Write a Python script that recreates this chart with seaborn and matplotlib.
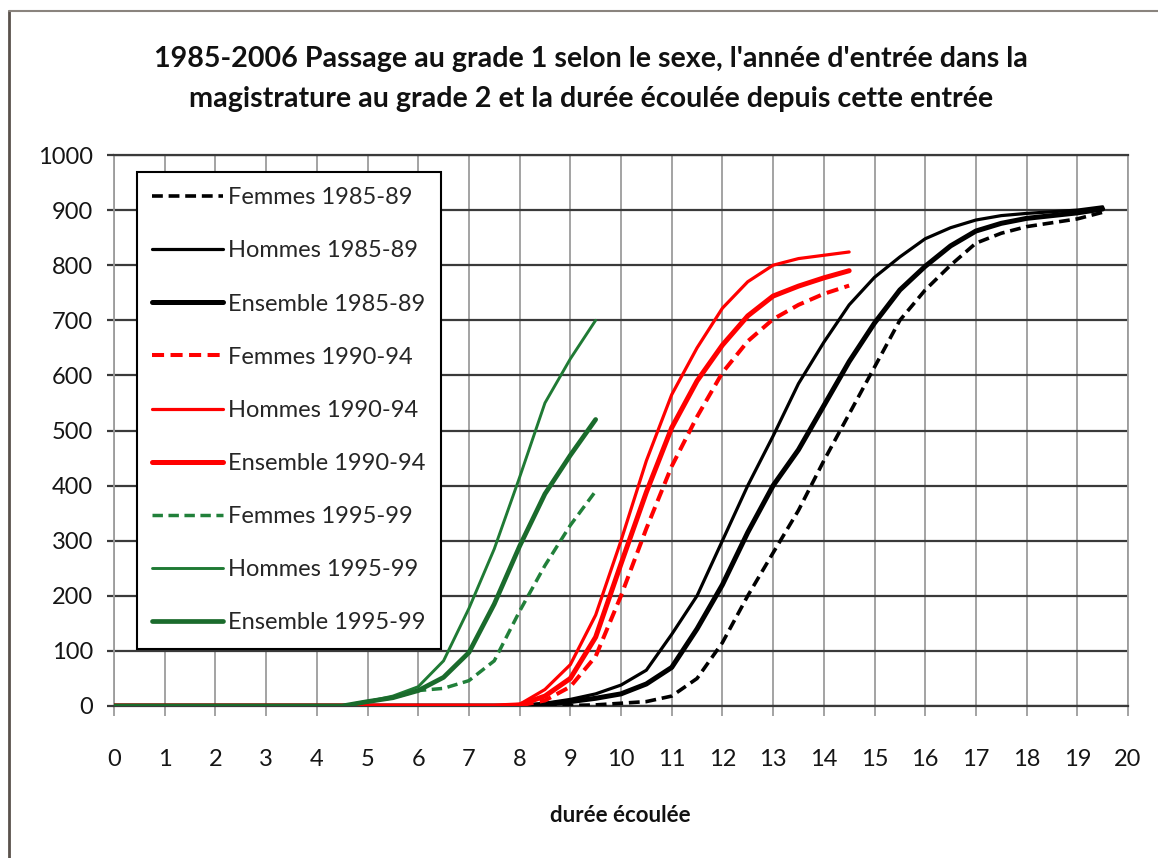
import matplotlib
matplotlib.use("Agg")
import matplotlib.pyplot as plt
import seaborn as sns
import pandas as pd
from matplotlib.lines import Line2D

sns.set_theme(style="white")
plt.rcParams['font.family'] = ['Lato', 'DejaVu Sans']

# ---- data ----
duree = [0, 0.5, 1, 1.5, 2, 2.5, 3, 3.5, 4, 4.5, 5, 5.5, 6, 6.5, 7, 7.5,
         8, 8.5, 9, 9.5, 10, 10.5, 11, 11.5, 12, 12.5, 13, 13.5, 14, 14.5,
         15, 15.5, 16, 16.5, 17, 17.5, 18, 18.5, 19, 19.5]

zeros16 = [0] * 16
femmes_85 = zeros16 + [0, 0, 1, 2, 5, 8, 18, 50, 115, 200, 278, 355, 445, 530,
                       615, 700, 755, 800, 840, 858, 870, 877, 884, 896]
hommes_85 = zeros16 + [0, 5, 12, 22, 38, 65, 130, 200, 300, 400, 490, 585, 660, 728,
                       778, 815, 848, 868, 882, 890, 894, 897, 900, 906]
ensemble_85 = zeros16 + [0, 3, 8, 14, 22, 40, 70, 140, 220, 315, 400, 465, 545, 625,
                         695, 755, 798, 835, 862, 876, 885, 890, 895, 902]

femmes_90 = zeros16 + [1, 10, 35, 90, 200, 322, 435, 525, 605, 662, 702, 728, 748, 763]
hommes_90 = zeros16 + [3, 30, 75, 165, 300, 445, 565, 650, 722, 770, 800, 812, 818, 824]
ensemble_90 = zeros16 + [2, 18, 50, 125, 258, 388, 505, 590, 655, 708, 744, 762, 777, 790]

zeros9 = [0] * 9
femmes_95 = zeros9 + [0, 8, 15, 28, 32, 46, 82, 172, 255, 328, 390]
hommes_95 = zeros9 + [0, 8, 18, 35, 82, 177, 285, 415, 550, 630, 700]
ensemble_95 = zeros9 + [0, 8, 15, 28, 52, 97, 185, 290, 385, 455, 520]

x_ticks = list(range(0, 21))
y_ticks = list(range(0, 1001, 100))

title1 = "1985-2006 Passage au grade 1 selon le sexe, l'année d'entrée dans la"
title2 = "magistrature au grade 2 et la durée écoulée depuis cette entrée"
xlabel = "durée écoulée"

series = [
    ("Femmes 1985-89", femmes_85, "#000000", 2.6, "dash"),
    ("Hommes 1985-89", hommes_85, "#000000", 2.3, "solid"),
    ("Ensemble 1985-89", ensemble_85, "#000000", 3.6, "solid"),
    ("Femmes 1990-94", femmes_90, "#ff0000", 2.9, "dash"),
    ("Hommes 1990-94", hommes_90, "#ff0000", 2.3, "solid"),
    ("Ensemble 1990-94", ensemble_90, "#ff0000", 3.6, "solid"),
    ("Femmes 1995-99", femmes_95, "#21803a", 2.5, "dash"),
    ("Hommes 1995-99", hommes_95, "#1f7a34", 2.1, "solid"),
    ("Ensemble 1995-99", ensemble_95, "#1a6b2c", 3.4, "solid"),
]

fig = plt.figure(figsize=(11.58, 8.58), dpi=100)
W, H = 1158, 858
ax = fig.add_axes([114 / W, 1 - 706 / H, (1128 - 114) / W, (706 - 155) / H])

for name, vals, col, lw, ls in series:
    df = pd.DataFrame({"duree": duree[:len(vals)], "val": vals})
    style = (0, (3, 1.6)) if ls == "dash" else "-"
    sns.lineplot(data=df, x="duree", y="val", ax=ax, color=col, lw=lw,
                 linestyle=style, errorbar=None, label=name,
                 solid_capstyle="round", solid_joinstyle="round",
                 dash_capstyle="butt", zorder=3)

ax.set_xlim(0, 20)
ax.set_ylim(0, 1000)
ax.set_xticks(x_ticks)
ax.set_yticks(y_ticks)
ax.set_xticklabels([str(t) for t in x_ticks])
ax.set_yticklabels([str(t) for t in y_ticks])
ax.set_xlabel("")
ax.set_ylabel("")

ax.grid(False)
for t in y_ticks:
    ax.axhline(t, color="#3a3a3a", lw=1.6, zorder=1)
for t in x_ticks:
    ax.axvline(t, color="#9c9c9c", lw=1.3, zorder=0.9)

for s in ["left", "right"]:
    ax.spines[s].set_color("#9c9c9c")
    ax.spines[s].set_linewidth(1.3)
for s in ["top", "bottom"]:
    ax.spines[s].set_color("#3a3a3a")
    ax.spines[s].set_linewidth(1.6)

ax.tick_params(axis="x", bottom=True, direction="out", length=7, width=1.3,
               color="#9c9c9c", pad=24, labelsize=17, labelcolor="#151515")
ax.tick_params(axis="y", left=True, direction="out", length=5, width=1.6,
               color="#3a3a3a", pad=10, labelsize=17, labelcolor="#151515")

handles, labels = ax.get_legend_handles_labels()
leg = ax.legend(handles, labels, loc="upper left",
                bbox_to_anchor=(137 / W, 1 - 172 / H),
                bbox_transform=fig.transFigure, frameon=True, fancybox=False,
                edgecolor="#000000", framealpha=1, fontsize=17,
                handlelength=3.0, labelspacing=1.36, borderpad=0.65,
                handletextpad=0.2, borderaxespad=0)
leg.get_frame().set_linewidth(1.5)
leg.set_zorder(5)

fig.text(591 / W, 1 - 67 / H, title1, ha="center", va="baseline",
         fontsize=20.6, fontweight="bold", color="#111111")
fig.text(591 / W, 1 - 107 / H, title2, ha="center", va="baseline",
         fontsize=20.6, fontweight="bold", color="#111111")
fig.text(620 / W, 1 - 822 / H, xlabel, ha="center", va="baseline",
         fontsize=16, fontweight="bold", color="#111111")

# outer chart frame (left and top edges visible)
fig.add_artist(Line2D([9 / W, 9 / W], [0, 1 - 11 / H], transform=fig.transFigure,
                      color="#5a524c", lw=2))
fig.add_artist(Line2D([9 / W, 1], [1 - 11 / H, 1 - 11 / H], transform=fig.transFigure,
                      color="#8a847e", lw=1.5))

fig.savefig("out.png", dpi=100)
